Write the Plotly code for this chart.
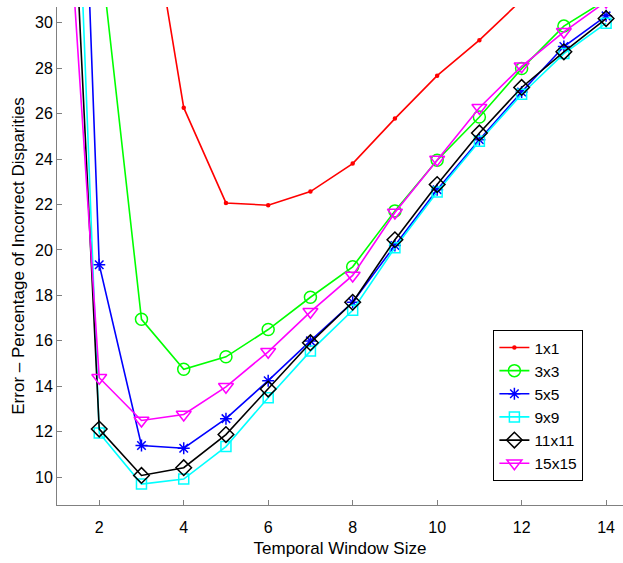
import plotly.graph_objects as go

x_vals = [1, 2, 3, 4, 5, 6, 7, 8, 9, 10, 11, 12, 13, 14]

err_1x1 = [62.0, 50.0, 37.5, 26.26, 22.07, 21.97, 22.57, 23.8, 25.78, 27.67, 29.23, 31.0, 32.6, 34.2]
err_3x3 = [48.0, 33.6, 16.95, 14.75, 15.3, 16.5, 17.92, 19.26, 21.72, 23.95, 25.85, 27.98, 29.85, 31.0]
err_5x5 = [70.0, 19.35, 11.4, 11.28, 12.58, 14.25, 16.0, 17.7, 20.2, 22.65, 24.85, 26.95, 28.95, 30.3]
err_9x9 = [60.6, 11.95, 9.7, 9.92, 11.35, 13.5, 15.55, 17.35, 20.1, 22.55, 24.78, 26.85, 28.64, 29.98]
err_11x11 = [51.0, 12.12, 10.08, 10.42, 11.88, 13.88, 15.92, 17.7, 20.45, 22.88, 25.15, 27.15, 28.72, 30.18]
err_15x15 = [42.8, 14.38, 12.5, 12.76, 13.98, 15.52, 17.28, 18.88, 21.65, 23.98, 26.26, 28.08, 29.6, 30.93]

series_names = ["1x1", "3x3", "5x5", "9x9", "11x11", "15x15"]
series_data = [err_1x1, err_3x3, err_5x5, err_9x9, err_11x11, err_15x15]
series_colors = ["#ff0000", "#00ff00", "#0000ff", "#00ffff", "#000000", "#ff00ff"]
series_symbols = ["circle", "circle-open", "asterisk-open", "square-open", "diamond-open", "triangle-down-open"]
series_sizes = [3, 12, 10, 10, 12, 13]

x_ticks = [2, 4, 6, 8, 10, 12, 14]
y_ticks = [10, 12, 14, 16, 18, 20, 22, 24, 26, 28, 30]

FONT = "Liberation Sans, Arial, Helvetica, sans-serif"

fig = go.Figure()
for name, ys, col, sym, sz in zip(series_names, series_data, series_colors, series_symbols, series_sizes):
    fig.add_trace(go.Scatter(
        x=x_vals, y=ys, name=name, mode="lines+markers",
        line=dict(color=col, width=1.6),
        marker=dict(symbol=sym, size=sz, color=col,
                    line=dict(color=col, width=1.5)),
        cliponaxis=True,
    ))

fig.update_layout(
    width=623, height=563,
    margin=dict(l=57, r=0, t=7, b=58),
    paper_bgcolor="white", plot_bgcolor="white",
    font=dict(family=FONT, size=16, color="black"),
    showlegend=True,
    legend=dict(
        x=0.771, y=0.20, xanchor="left", yanchor="middle",
        bgcolor="white", bordercolor="black", borderwidth=1,
        font=dict(family=FONT, size=15.5, color="black"),
        itemwidth=30, tracegroupgap=0, entrywidth=72,
    ),
    xaxis=dict(
        range=[1.0, 14.4], tickvals=x_ticks, ticks="inside", ticklen=5,
        tickcolor="#808080", showline=True, linecolor="#808080", linewidth=1,
        showgrid=False, zeroline=False, mirror=False, automargin=False,
        ticklabelstandoff=8,
        title=dict(text="Temporal Window Size", font=dict(family=FONT, size=17), standoff=6),
        tickfont=dict(family=FONT, size=16, color="black"),
    ),
    yaxis=dict(
        range=[8.78, 30.69], tickvals=y_ticks, ticks="inside", ticklen=5,
        tickcolor="#808080", showline=True, linecolor="#808080", linewidth=1,
        showgrid=False, zeroline=False, mirror=False, automargin=False,
        title=dict(text="Error \u2013 Percentage of Incorrect Disparities", font=dict(family=FONT, size=17), standoff=6),
        tickfont=dict(family=FONT, size=16, color="black"),
    ),
)

fig.write_html(
    "out.html",
    config={"displayModeBar": False},
    post_script="document.body.style.margin='0';document.body.style.padding='0';",
)
